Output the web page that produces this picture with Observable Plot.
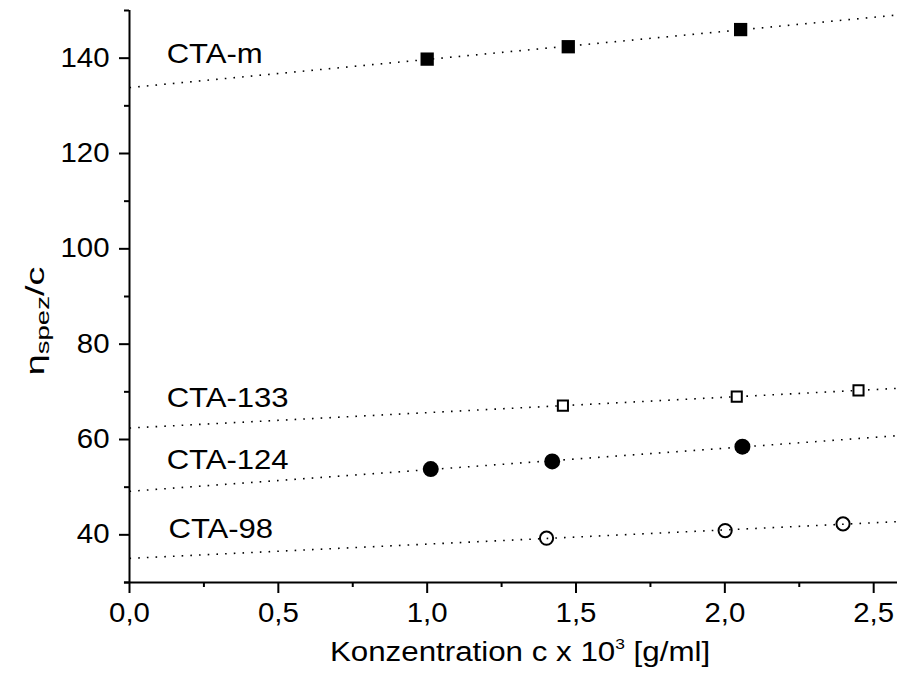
<!DOCTYPE html>
<html>
<head>
<meta charset="utf-8">
<script src="https://cdn.jsdelivr.net/npm/d3@7"></script>
<script src="https://cdn.jsdelivr.net/npm/@observablehq/plot@0.6"></script>
<style>
  html, body { margin: 0; padding: 0; background: #fff; }
  #chart svg { display: block; }
</style>
</head>
<body>
<div id="chart"></div>
<script>
// ---- data ----
const seriesNames = ["CTA-m", "CTA-133", "CTA-124", "CTA-98"];
const xCTAm   = [1.000, 1.474, 2.053];
const yCTAm   = [139.8, 142.4, 146.0];
const xCTA133 = [1.456, 2.040, 2.449];
const yCTA133 = [67.1, 69.0, 70.3];
const xCTA124 = [1.012, 1.420, 2.059];
const yCTA124 = [53.8, 55.4, 58.5];
const xCTA98  = [1.401, 2.001, 2.397];
const yCTA98  = [39.3, 40.9, 42.3];
const labelX  = [0.125, 0.125, 0.125, 0.131];
const labelY  = [139.0, 66.8, 53.9, 39.4];
const xMajorTicks = [0, 0.5, 1.0, 1.5, 2.0, 2.5];
const xMinorTicks = [0.25, 0.75, 1.25, 1.75, 2.25];
const yMajorTicks = [40, 60, 80, 100, 120, 140];
const yMinorTicks = [30, 50, 70, 90, 110, 130, 150];
const xDomain = [0, 2.58];
const yDomain = [30, 150];

// ---- build tables ----
const xs = [xCTAm, xCTA133, xCTA124, xCTA98];
const ys = [yCTAm, yCTA133, yCTA124, yCTA98];
const points = [];
seriesNames.forEach((s, i) => xs[i].forEach((x, j) => points.push({series: s, x, y: ys[i][j]})));
const fits = [];
seriesNames.forEach((s, i) => {
  const X = xs[i], Y = ys[i];
  const mx = d3.mean(X), my = d3.mean(Y);
  const sxy = d3.sum(X, (x, k) => (x - mx) * (Y[k] - my));
  const sxx = d3.sum(X, x => (x - mx) ** 2);
  const m = sxy / sxx, b = my - m * mx;
  xDomain.forEach(x => fits.push({series: s, x, y: b + m * x}));
});
const labels = seriesNames.map((s, i) => ({series: s, x: labelX[i], y: labelY[i]}));
const pick = s => points.filter(d => d.series === s);

const FONT = "Liberation Sans, Arial, Helvetica, sans-serif";

const plot = Plot.plot({
  width: 897,
  height: 675,
  marginLeft: 129,
  marginRight: 0,
  marginTop: 10,
  marginBottom: 93,
  style: {fontFamily: FONT, fontSize: "26px", color: "#000", background: "#fff", overflow: "visible"},
  x: {domain: xDomain, axis: null},
  y: {domain: yDomain, axis: null},
  marks: [
    Plot.line(fits, {x: "x", y: "y", z: "series", stroke: "#000", strokeWidth: 1.6, strokeDasharray: "1.6 7.1", strokeLinecap: "butt"}),
    Plot.axisX({ticks: xMajorTicks, tickSize: 11, tickPadding: 9, strokeWidth: 2, fontSize: 27,
      tickFormat: d => d3.format(".1f")(d).replace(".", ","), label: null}),
    Plot.axisX({ticks: xMinorTicks, tickSize: 5, strokeWidth: 2, tickFormat: () => "", label: null}),
    Plot.axisY({ticks: yMajorTicks, tickSize: 10, tickPadding: 10, strokeWidth: 2, fontSize: 27,
      tickFormat: d => String(d), label: null}),
    Plot.axisY({ticks: yMinorTicks, tickSize: 5, strokeWidth: 2, tickFormat: () => "", label: null}),
    Plot.ruleX([0], {y1: yDomain[0], y2: yDomain[1], stroke: "#000", strokeWidth: 2}),
    Plot.ruleY([yDomain[0]], {x1: -0.017, x2: xDomain[1], stroke: "#000", strokeWidth: 2}),
    // CTA-m : filled squares
    Plot.dot(pick("CTA-m"), {x: "x", y: "y", symbol: "square", r: 7.5, fill: "#000", stroke: "none"}),
    // CTA-133 : open squares
    Plot.dot(pick("CTA-133"), {x: "x", y: "y", symbol: "square", r: 5.7, fill: "#fff", stroke: "#000", strokeWidth: 2}),
    // CTA-124 : filled circles
    Plot.dot(pick("CTA-124"), {x: "x", y: "y", symbol: "circle", r: 8, fill: "#000", stroke: "none"}),
    // CTA-98 : open circles
    Plot.dot(pick("CTA-98"), {x: "x", y: "y", symbol: "circle", r: 6.6, fill: "none", stroke: "#000", strokeWidth: 2}),
    Plot.text(labels, {x: "x", y: "y", text: "series", textAnchor: "start", lineAnchor: "bottom", fontSize: 27, fill: "#000"})
  ]
});

const svg = d3.select(plot);
// widen glyphs horizontally around each text's anchor point (reference text is wide)
svg.selectAll("text").each(function() {
  const t = d3.select(this);
  const s = /^CTA/.test(t.text()) ? 1.15 : 1.09;
  const x = parseFloat(t.attr("x")) || 0, y = parseFloat(t.attr("y")) || 0;
  const tr = t.attr("transform") || "";
  t.attr("transform", `${tr} translate(${x},${y}) scale(${s},1) translate(${-x},${-y})`);
});

// y-axis title with subscript
const yt = svg.append("text")
  .attr("transform", "translate(44,321) rotate(-90) scale(1.45,1)")
  .attr("text-anchor", "middle")
  .attr("font-family", FONT)
  .attr("font-size", 26)
  .attr("fill", "#000");
yt.append("tspan").text("η");
yt.append("tspan").attr("font-size", 19).attr("dy", 5).text("spez");
yt.append("tspan").attr("dy", -5).text("/c");
// x-axis title with superscript
const xt = svg.append("text")
  .attr("transform", "translate(520,661) scale(1.16,1)")
  .attr("text-anchor", "middle")
  .attr("font-family", FONT)
  .attr("font-size", 27)
  .attr("fill", "#000");
xt.append("tspan").text("Konzentration c x 10");
xt.append("tspan").attr("font-size", 15).attr("dy", -12).text("3");
xt.append("tspan").attr("dy", 12).text(" [g/ml]");

document.getElementById("chart").appendChild(plot);
</script>
</body>
</html>
